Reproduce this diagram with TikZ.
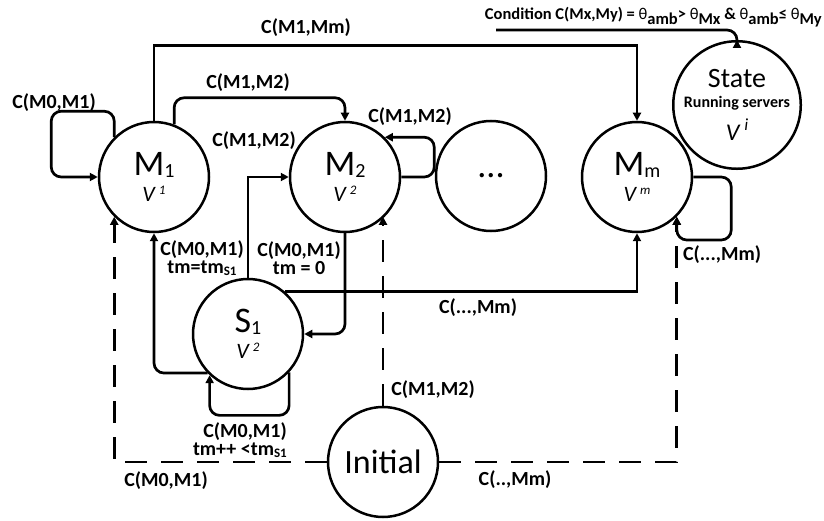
\documentclass[tikz,border=0pt]{standalone}
\usepackage{fontspec}
\setmainfont{Carlito}
\usetikzlibrary{arrows.meta}
\newcommand\msub[1]{\raisebox{-2pt}{\fontsize{20}{20}\selectfont #1}}
\newcommand\vsup[1]{{\fontsize{22}{22}\selectfont\itshape V\hspace{4pt}\raisebox{7pt}{\fontsize{13}{13}\selectfont #1}}}
\newcommand\lsub[1]{\raisebox{-2pt}{\fontsize{13}{13}\selectfont #1}}
\newcommand\csub[1]{\raisebox{-5pt}{#1}}
\begin{document}
\begin{tikzpicture}[x=1pt,y=-1pt,
  st/.style={circle,draw,line width=2.5pt,minimum size=110pt,inner sep=0pt,align=center,font=\fontsize{36}{26}\selectfont},
  conn/.style={line width=2.7pt,-{Triangle[length=8pt,width=8pt]}},
  dconn/.style={conn,dash pattern=on 22pt off 14pt},
  lab/.style={font=\fontsize{20}{18}\selectfont\bfseries,align=center,inner sep=0pt},
  rc/.style={rounded corners=10pt}
]
\useasboundingbox (0,0) rectangle (824,521);
% states
\node[st] (M1) at (154,177) {M\msub{1}\\\vsup{1}};
\node[st] (M2) at (345,177) {M\msub{2}\\\vsup{2}};
\node[st] (Md) at (491,176) {...};
\node[st] (Mm) at (637,177) {M\msub{m}\\\vsup{m}};
\node[st] (S1) at (248,334) {S\msub{1}\\\vsup{2}};
\node[st,minimum size=108pt,font=\fontsize{28}{20}\selectfont] (St) at (737,105)
  {State\\{\fontsize{16}{16}\selectfont\bfseries Running servers}\\[8pt]{\fontsize{24}{24}\selectfont\itshape V\hspace{5pt}\raisebox{10pt}{\fontsize{17}{17}\selectfont i}}};
\node[st,font=\fontsize{34}{34}\selectfont] (In) at (383,462) {Initial};
% solid connectors
\draw[conn,rc] (M1.135) -- ++(0,-26) -- ++(-63,0) |- (M1.west);
\draw[conn,rc] (M1.69) |- ([yshift=23pt]M2.north) -- (M2.north);
\draw[conn] (M1.north) -- ++(0,-75) -| (Mm.north);
\draw[conn,rc] (M2.east) -- ++(33,0) |- (M2.45);
\draw[conn] (S1.north) |- (M2.west);
\draw[conn,rc] (S1.224) -| (M1.south);
\draw[conn,rc] (M2.south) |- (S1.east);
\draw[conn,rc] (S1.317) -- ++(0,43) -| (S1.227);
\draw[conn] (S1.49) -| (Mm.south);
\draw[conn,rc] (Mm.east) -- ++(38,0) -- ++(0,63) -| (Mm.-45);
% dashed connectors
\draw[dconn] (In.west) -| (M1.225);
\draw[dconn] (In.north) -- (In.north |- M2.-45);
\draw[dconn] (In.east) -| (Mm.-45);
% condition
\coordinate (cs) at (496,30);
\draw[conn,rc] (cs) -| (St.north);
% labels
\node[lab] (l1) at (306,28) {C(M1,Mm)};
\node[lab] (l2) at (54,103) {C(M0,M1)};
\node[lab] (l3) at (248,83) {C(M1,M2)};
\node[lab] (l4) at (410,117) {C(M1,M2)};
\node[lab] (l5) at (254,141) {C(M1,M2)};
\node[lab] (l6) at (202,258) {C(M0,M1)\\tm=tm\lsub{S1}};
\node[lab] (l7) at (299,258) {C(M0,M1)\\tm = 0};
\node[lab,align=right,anchor=east] (l8) at (287,440) {C(M0,M1)\\tm++ <tm\lsub{S1}};
\node[lab] (l9) at (478,308) {C(...,Mm)};
\node[lab] (l10) at (722,255) {C(...,Mm)};
\node[lab] (l11) at (166,481) {C(M0,M1)};
\node[lab] (l12) at (433,390) {C(M1,M2)};
\node[lab] (l13) at (515,480) {C(..,Mm)};
\node[lab,font=\fontsize{16.5}{17}\selectfont\bfseries,anchor=base east] (l14) at (822,20) {Condition C(Mx,My) = {\mdseries θ}\csub{amb}> {\mdseries θ}\csub{Mx} \& {\mdseries θ}\csub{amb}≤ {\mdseries θ}\csub{My}};
\end{tikzpicture}
\end{document}
